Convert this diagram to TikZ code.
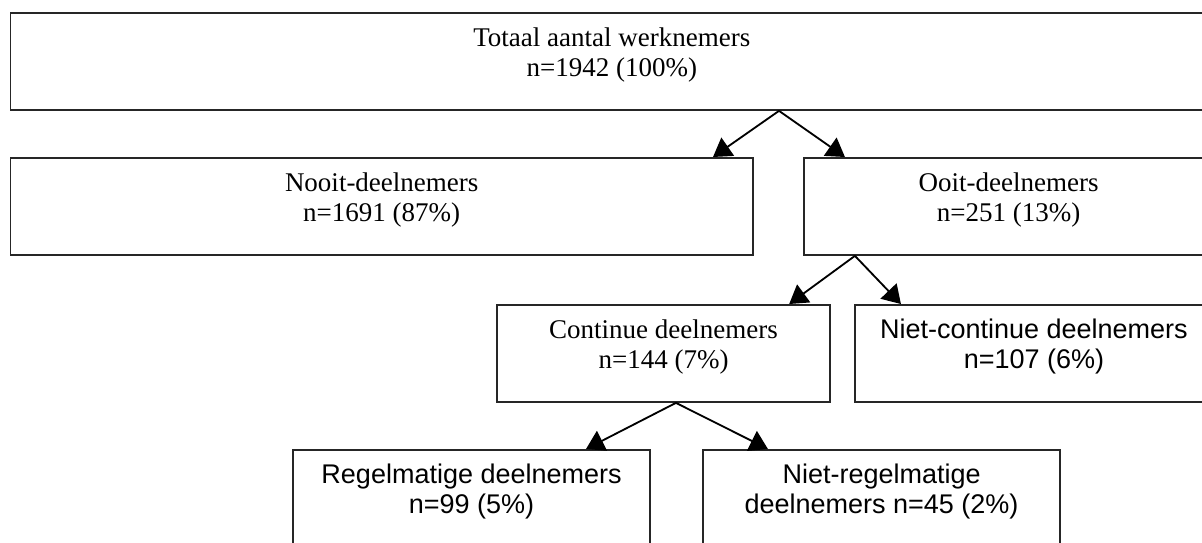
\documentclass[tikz,border=0pt]{standalone}
\usepackage{fontspec}
\setmainfont{Liberation Serif}
\setsansfont{Liberation Sans}
\usetikzlibrary{arrows.meta}

\begin{document}
\begin{tikzpicture}[x=0.025cm, y=-0.025cm,
    box/.style={draw=black!85, line width=1.3pt, fill=white, anchor=north west,
        inner sep=0pt, align=center, minimum height=2.425cm,
        text height=1.6cm, text depth=0.825cm,
        font=\fontsize{19.2}{21.3}\selectfont},
    sbox/.style={box, font=\sffamily\fontsize{19.2}{21.3}\selectfont},
    arr/.style={line width=1.3pt, -{Triangle[length=0.45cm, width=0.55cm]}}]
\useasboundingbox (0,0) rectangle (1202,542);
%top row
\node[box, minimum width=30.06cm] (tot) at (9.5,12) {Totaal aantal werknemers\\n=1942 (100\%)};
%second row
\node[box, minimum width=18.56cm] (nooit) at (9.5,157) {Nooit-deelnemers\\n=1691 (87\%)};
\node[box, minimum width=10.23cm] (ooit) at (803,157) {Ooit-deelnemers\\n=251 (13\%)};
%third row
\node[box, minimum width=8.33cm] (cont) at (496,304) {Continue deelnemers\\n=144 (7\%)};
\node[sbox, minimum width=8.95cm] (nietc) at (854,304) {Niet-continue deelnemers\\n=107 (6\%)};
%bottom row, cut off by the page
\node[sbox, minimum width=8.93cm] (regel) at (292,449) {Regelmatige deelnemers\\n=99 (5\%)};
\node[sbox, minimum width=8.93cm] (nietr) at (702,449) {Niet-regelmatige\\deelnemers n=45 (2\%)};
%arrows.........
\draw[arr] ([xshift=4.18cm]tot.south) -- ([xshift=8.28cm]nooit.north);
\draw[arr] ([xshift=4.18cm]tot.south) -- ([xshift=-4.09cm]ooit.north);
\draw[arr] ([xshift=-3.84cm]ooit.south) -- ([xshift=3.14cm]cont.north);
\draw[arr] ([xshift=-3.84cm]ooit.south) -- ([xshift=-3.325cm]nietc.north);
\draw[arr] ([xshift=0.31cm]cont.south) -- ([xshift=2.86cm]regel.north);
\draw[arr] ([xshift=0.31cm]cont.south) -- ([xshift=-2.84cm]nietr.north);
\end{tikzpicture}
\end{document}
